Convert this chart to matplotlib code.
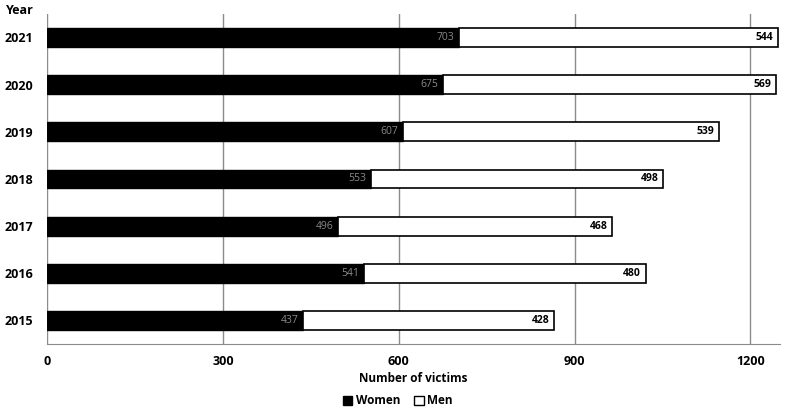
import matplotlib.pyplot as plt
from matplotlib.patches import Patch

plt.rcParams['font.family'] = ['Open Sans', 'DejaVu Sans']

# Data
years = ['2015', '2016', '2017', '2018', '2019', '2020', '2021']
women = [437, 541, 496, 553, 607, 675, 703]
men = [428, 480, 468, 498, 539, 569, 544]

fig = plt.figure(figsize=(7.86, 4.09), dpi=100)
ax = fig.add_axes([0.06, 0.159, 0.932, 0.807])

ypos = range(len(years))
bar_w = ax.barh(ypos, women, height=0.4, color='black', edgecolor='black', linewidth=1, zorder=3)
bar_m = ax.barh(ypos, men, left=women, height=0.4, color='white', edgecolor='black', linewidth=1.2, zorder=3)

# Value labels at the inner end of each segment
for i in ypos:
    ax.text(women[i] - 8, i, str(women[i]), ha='right', va='center', color='#8a8a8a', fontsize=7.5, zorder=4)
    ax.text(women[i] + men[i] - 8, i, str(men[i]), ha='right', va='center', color='black',
            fontsize=7.5, fontweight='bold', zorder=4)

ax.set_xlim(0, 1250)
ax.set_ylim(-0.5, 6.5)
ax.set_xticks([0, 300, 600, 900, 1200])
ax.set_yticks(list(ypos))
ax.set_yticklabels(years, fontweight='bold', fontsize=9)
for lbl in ax.get_xticklabels():
    lbl.set_fontweight('bold')
    lbl.set_fontsize(9)
ax.tick_params(axis='both', length=0, pad=8)
ax.tick_params(axis='y', pad=10)

ax.grid(axis='x', color='#8c8c8c', linewidth=1, zorder=0)
for side in ['top', 'right', 'left']:
    ax.spines[side].set_visible(False)
ax.spines['bottom'].set_color('#8c8c8c')

ax.set_xlabel('Number of victims', fontweight='bold', fontsize=8.5, labelpad=3)
fig.text(0.008, 0.975, 'Year', fontweight='bold', fontsize=9, ha='left', va='center')

handles = [Patch(facecolor='black', edgecolor='black'), Patch(facecolor='white', edgecolor='black')]
fig.legend(handles, ['Women', 'Men'], loc='center', bbox_to_anchor=(0.506, 0.02), ncol=2, frameon=False,
           handlelength=0.8, handleheight=0.8, handletextpad=0.3, columnspacing=1.2,
           borderpad=0.1, prop={'weight': 'bold', 'size': 8.5})

plt.savefig('out.png', dpi=100)
